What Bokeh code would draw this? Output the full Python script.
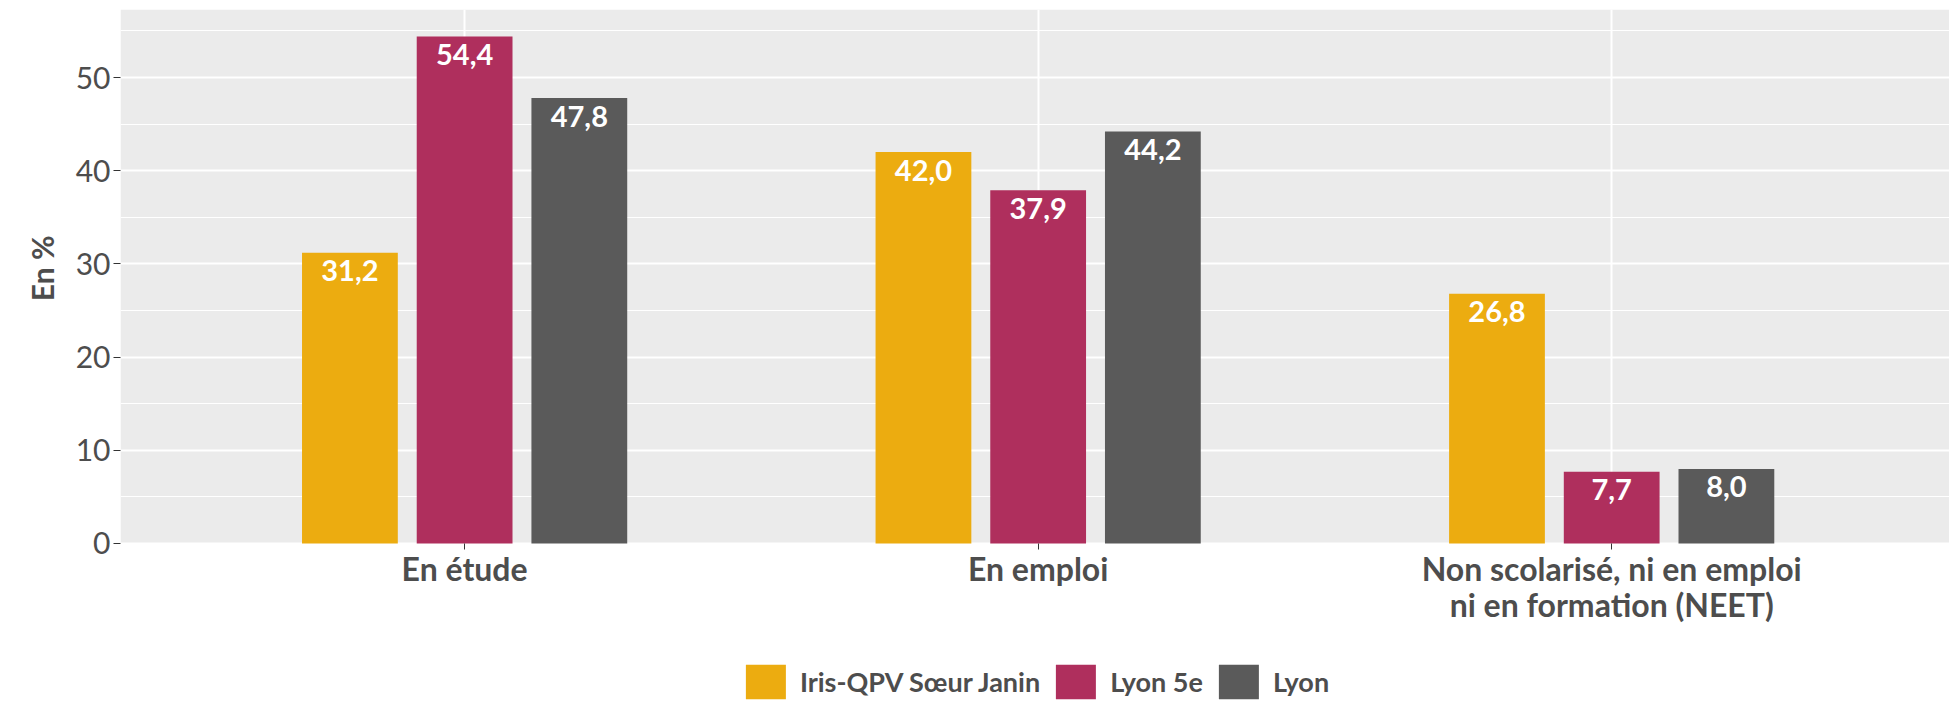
import numpy as np
from bokeh.plotting import figure
from bokeh.models import (ColumnDataSource, Range1d, FixedTicker, SingleIntervalTicker,
                          Legend, LegendItem, BoxAnnotation, Title)
from bokeh.transform import dodge
from bokeh.core.properties import value
from bokeh.embed import file_html
from bokeh.resources import INLINE

# ---- data ----
categories = ["En étude", "En emploi", "Non scolarisé, ni en emploi\nni en formation (NEET)"]
series = ["Iris-QPV Sœur Janin", "Lyon 5e", "Lyon"]
iris = [31.2, 42.0, 26.8]
lyon5 = [54.4, 37.9, 7.7]
lyon = [47.8, 44.2, 8.0]
colors = ["#ECAC10", "#AF2F5D", "#5A5A5A"]
y_ticks = [0, 10, 20, 30, 40, 50]

xpos = np.arange(1, len(categories) + 1)

# frame spans the whole height; the grey panel only covers y >= 0
p = figure(width=1949, height=703, output_backend="svg", toolbar_location=None,
           x_range=Range1d(0.4, 3.589), y_range=Range1d(-17.17, 57.3),
           min_border_left=120, min_border_right=0, min_border_top=9, min_border_bottom=0)
p.background_fill_color = "white"
p.border_fill_color = "white"
p.outline_line_color = None
p.add_layout(BoxAnnotation(bottom=0, fill_color="#EBEBEB", fill_alpha=1,
                           line_color=None, level="image"))

offsets = [-0.2, 0.0, 0.2]
renderers = []
for vals, off, col in zip([iris, lyon5, lyon], offsets, colors):
    src = ColumnDataSource(dict(x=xpos, v=vals, lab=[f"{v:.1f}".replace(".", ",") for v in vals]))
    r = p.vbar(x=dodge("x", off, range=p.x_range), top="v", bottom=0, width=0.167,
               source=src, fill_color=col, line_color=None)
    renderers.append(r)
    p.text(x=dodge("x", off, range=p.x_range), y="v", text="lab", source=src,
           text_align="center", text_baseline="middle", y_offset=18,
           text_font=value("Lato"), text_font_style="bold", text_font_size="29px",
           text_color="white")

# x axis drawn at y = 0
p.xaxis.fixed_location = 0
p.xaxis.ticker = FixedTicker(ticks=list(xpos))
p.xaxis.major_label_overrides = {int(i): c for i, c in zip(xpos, categories)}
p.xaxis.axis_line_color = None
p.xaxis.major_tick_line_color = "#333333"
p.xaxis.major_tick_out = 6
p.xaxis.major_tick_in = 0
p.xaxis.minor_tick_line_color = None
p.xaxis.major_label_text_font = "Lato"
p.xaxis.major_label_text_font_style = "bold"
p.xaxis.major_label_text_font_size = "32px"
p.xaxis.major_label_text_color = "#4D4D4D"
p.xaxis.major_label_text_line_height = 0.92
p.xaxis.major_label_standoff = 0

p.yaxis.ticker = FixedTicker(ticks=y_ticks)
p.yaxis.axis_line_color = None
p.yaxis.major_tick_line_color = "#333333"
p.yaxis.major_tick_out = 7
p.yaxis.major_tick_in = 0
p.yaxis.minor_tick_line_color = None
p.yaxis.major_label_text_font = "Lato"
p.yaxis.major_label_text_font_size = "30px"
p.yaxis.major_label_text_color = "#4D4D4D"
p.yaxis.major_label_standoff = 3

# y axis title, placed against the grey panel's vertical centre
p.add_layout(Title(text="En %", align="right", offset=226, standoff=25,
                   text_font="Lato", text_font_style="bold", text_font_size="30px",
                   text_color="#4D4D4D"), "left")

# grids
p.xgrid.grid_line_color = "white"
p.xgrid.grid_line_width = 2
p.ygrid.ticker = SingleIntervalTicker(interval=10, num_minor_ticks=2)
p.ygrid.grid_line_color = "white"
p.ygrid.grid_line_width = 2
p.ygrid.minor_grid_line_color = "white"
p.ygrid.minor_grid_line_width = 1.2

legend = Legend(items=[LegendItem(label=s, renderers=[r]) for s, r in zip(series, renderers)],
                orientation="horizontal", location="bottom_center",
                glyph_width=50, glyph_height=43, label_standoff=10, spacing=10,
                padding=0, margin=0, background_fill_alpha=0, border_line_color=None,
                label_text_font="Lato", label_text_font_style="bold",
                label_text_font_size="27px", label_text_color="#4D4D4D")
p.add_layout(legend, "center")

open("out.html", "w").write(file_html(p, INLINE))
